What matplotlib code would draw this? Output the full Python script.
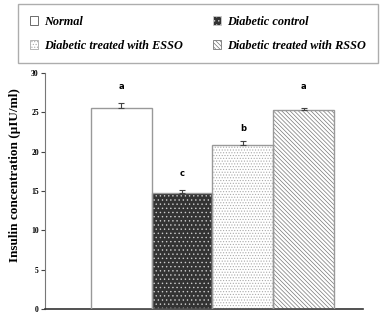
import matplotlib
matplotlib.use('Agg')
from matplotlib import pyplot as plt
from matplotlib.patches import Patch

groups = ['Normal', 'Diabetic control', 'Diabetic treated with ESSO', 'Diabetic treated with RSSO']
insulin = [25.6, 14.8, 20.9, 25.3]
errors = [0.6, 0.3, 0.5, 0.25]
letters = ['a', 'c', 'b', 'a']
letter_y = [28.3, 17.3, 22.9, 28.3]

plt.rcParams['font.family'] = ['Liberation Serif', 'DejaVu Serif']
plt.rcParams['hatch.linewidth'] = 0.5

faces = ['white', '#333333', 'white', 'white']
hatches = [None, '....', '......', '\\\\\\\\\\\\\\\\']
hatch_cols = ['#999999', '#cccccc', '#aaaaaa', '#777777']

fig = plt.figure(figsize=(3.88, 3.22), dpi=100)
ax = fig.add_axes([0.116, 0.040, 0.820, 0.733])

x = range(len(groups))
handles = []
for i in x:
    # fill with hatch
    ax.bar(i, insulin[i], width=1.0, color=faces[i], hatch=hatches[i],
           edgecolor=hatch_cols[i], linewidth=0, zorder=2)
    # outline
    ax.bar(i, insulin[i], width=1.0, fill=False, edgecolor='#999999',
           linewidth=1.0, zorder=3)
    handles.append(Patch(facecolor=faces[i], hatch=hatches[i],
                         edgecolor=hatch_cols[i] if i else '#555555', linewidth=0.6))

ax.errorbar(list(x), insulin, yerr=[[0] * 4, errors], fmt='none',
            ecolor='#444444', elinewidth=0.8, capsize=2, capthick=0.8, zorder=4)

for i in x:
    ax.text(i, letter_y[i], letters[i], ha='center', va='center',
            fontsize=6, fontweight='bold', family='DejaVu Sans')

ax.set_xlim(-1.25, 3.975)
ax.set_ylim(0, 30)
ax.set_yticks(range(0, 31, 5))
ax.set_xticks([])
ax.spines['top'].set_visible(False)
ax.spines['right'].set_visible(False)
ax.spines['left'].set_color('#777777')
ax.spines['bottom'].set_color('#333333')
ax.spines['bottom'].set_linewidth(1.2)
ax.tick_params(axis='y', labelsize=5.5, length=3, width=0.8, color='#444444', pad=1.5)
for lab in ax.get_yticklabels():
    lab.set_fontweight('bold')
ax.set_ylabel('Insulin concentration (\u00b5IU/ml)', fontsize=9.5,
              fontweight='bold')
ax.yaxis.set_label_coords(-0.075, 0.57)

order = [0, 2, 1, 3]
leg = fig.legend([handles[k] for k in order], [groups[k] for k in order],
                 loc='upper left', ncol=2, mode='expand',
                 bbox_to_anchor=(18 / 388, 1 - 62 / 322, 360 / 388, 58 / 322),
                 prop={'size': 8.8, 'weight': 'bold', 'style': 'italic'},
                 handlelength=0.7, handleheight=0.7, handletextpad=0.5,
                 borderpad=0.95, labelspacing=1.0, fancybox=False,
                 edgecolor='#999999', borderaxespad=0)
leg.get_frame().set_linewidth(1.0)

fig.savefig('out.png', dpi=100)
